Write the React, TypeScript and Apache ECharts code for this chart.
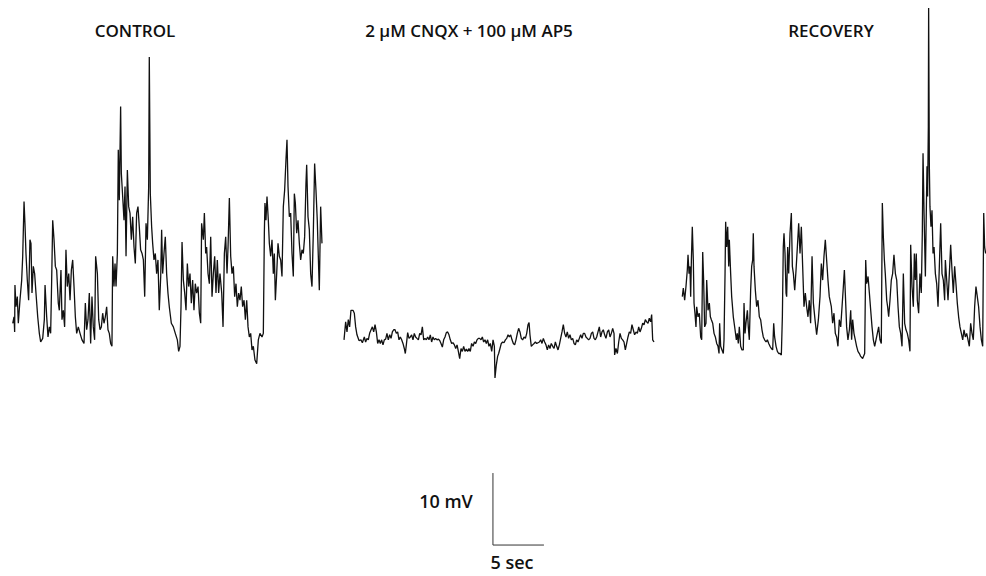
import React, { useEffect, useRef } from "react";
import * as echarts from "echarts";

// ---- Data (time in s, membrane potential in mV relative to trace baseline) ----
const panelTitles = ["CONTROL", "2 \u03bcM CNQX + 100 \u03bcM AP5", "RECOVERY"];

const controlTime = [0.07,0.20,0.26,0.29,0.39,0.52,0.62,0.78,0.95,1.05,1.18,1.27,1.37,1.50,1.63,1.76,1.86,1.96,2.09,2.22,2.35,2.52,2.68,2.81,3.01,3.17,3.24,3.40,3.53,3.66,3.79,3.89,3.99,4.12,4.25,4.38,4.54,4.64,4.80,4.90,5.03,5.16,5.29,5.42,5.56,5.69,5.82,5.95,6.08,6.21,6.34,6.50,6.67,6.86,7.06,7.19,7.32,7.45,7.58,7.71,7.84,7.97,8.10,8.20,8.37,8.50,8.63,8.76,8.89,9.02,9.15,9.28,9.41,9.54,9.67,9.80,9.87,10.00,10.10,10.20,10.33,10.42,10.52,10.65,10.72,10.85,10.98,11.08,11.18,11.31,11.44,11.57,11.70,11.83,11.96,12.09,12.22,12.35,12.48,12.61,12.75,12.88,13.01,13.14,13.27,13.40,13.46,13.56,13.69,13.79,13.92,14.05,14.18,14.31,14.44,14.58,
14.67,14.77,14.90,15.03,15.16,15.29,15.42,15.62,15.82,16.01,16.21,16.34,16.47,16.57,16.67,16.80,16.93,17.06,17.19,17.32,17.45,17.58,17.71,17.84,17.97,18.10,18.24,18.37,18.50,18.59,18.76,18.86,18.99,19.08,19.22,19.35,19.48,19.61,19.74,19.87,20.00,20.13,20.26,20.39,20.56,20.69,20.82,20.95,21.08,21.18,21.31,21.44,21.57,21.70,21.83,21.96,22.09,22.22,22.35,22.48,22.61,22.75,22.88,23.01,23.14,23.27,23.40,23.53,23.66,23.82,23.99,24.15,24.31,24.51,24.64,24.74,24.80,24.90,25.00,25.13,25.23,25.36,25.49,25.62,25.72,25.82,25.95,26.08,26.21,26.34,26.47,26.60,26.73,26.86,26.96,27.06,27.19,27.32,27.45,27.58,27.68,27.78,27.91,28.04,28.17,28.30,28.43,28.56,28.69,28.82,28.89,29.02,29.15,29.28,29.41,29.54,29.67,29.80,29.93,30.07,30.13,30.26,30.39];
const controlMv = [5.1,6.0,3.9,10.4,7.4,8.8,5.1,8.3,11.1,14.4,22.0,19.0,14.8,11.1,8.3,16.7,16.2,9.3,13.0,12.0,9.3,6.0,3.7,2.5,3.0,5.6,10.4,6.0,3.2,4.6,3.7,11.1,19.4,16.7,13.0,12.5,7.9,6.9,12.5,5.6,6.9,4.6,15.3,10.2,12.0,8.3,12.5,13.9,10.2,6.0,3.7,4.6,3.7,2.8,2.3,7.9,4.2,5.6,9.3,2.3,8.8,4.6,2.8,14.4,12.0,5.6,4.2,4.6,6.5,5.1,6.0,7.4,4.2,3.7,2.3,1.9,14.4,10.2,13.4,10.2,14.8,29.2,22.2,35.2,25.9,22.7,19.4,24.1,14.4,26.4,21.3,20.4,16.7,19.9,15.7,13.4,20.4,21.3,18.5,15.3,14.8,13.9,8.8,19.0,16.7,24.1,42.1,23.1,18.5,16.2,13.9,14.8,12.0,13.9,6.9,11.6,
18.1,12.0,14.8,17.1,12.0,9.3,7.4,5.1,4.6,3.7,2.8,1.2,1.9,7.4,16.4,11.1,9.3,6.9,13.4,10.2,12.0,7.9,11.1,6.9,10.6,9.3,10.2,6.5,5.1,19.0,16.7,20.4,14.8,15.7,12.0,10.6,17.1,8.8,12.0,14.4,9.3,13.9,9.3,12.0,9.3,4.6,14.8,17.1,12.0,15.7,22.5,14.4,12.0,13.0,8.8,10.6,7.4,9.3,8.3,10.2,7.4,8.3,5.6,8.3,4.6,3.2,3.7,1.4,1.9,0.0,-0.5,2.8,3.7,3.2,3.7,17.6,21.8,19.4,22.7,19.4,16.2,14.4,16.7,12.0,14.8,8.3,12.0,16.2,14.4,13.9,11.6,21.3,23.6,27.8,30.6,24.1,19.9,20.4,14.8,11.6,23.1,21.8,17.6,19.4,16.2,13.9,15.3,14.8,17.1,24.5,27.1,19.9,18.1,12.0,10.2,17.6,27.3,23.6,19.4,12.5,9.7,21.3,16.2];

const drugTime = [0.10,0.26,0.39,0.52,0.65,0.78,0.98,1.11,1.24,1.37,1.57,1.76,1.90,2.09,2.22,2.35,2.48,2.61,2.75,2.88,3.01,3.14,3.27,3.40,3.53,3.66,3.79,3.92,4.05,4.18,4.31,4.44,4.58,4.71,4.84,4.97,5.10,5.23,5.36,5.49,5.62,5.75,5.88,6.01,6.11,6.21,6.34,6.47,6.60,6.73,6.86,6.99,7.12,7.25,7.39,7.52,7.65,7.78,7.91,8.04,8.17,8.30,8.43,8.56,8.69,8.82,8.95,9.08,9.22,9.35,9.48,9.61,9.74,9.87,10.00,10.13,10.26,10.39,10.52,10.65,10.78,10.92,11.05,11.18,11.31,11.44,11.57,11.70,11.83,11.96,12.09,12.22,12.35,12.48,12.61,12.75,12.88,13.01,13.14,13.27,13.40,13.53,13.66,13.79,13.92,14.05,14.18,14.31,14.44,14.58,14.71,14.84,14.90,15.03,15.16,
15.26,15.39,15.52,15.65,15.78,15.92,16.05,16.18,16.31,16.44,16.57,16.70,16.83,16.96,17.09,17.22,17.35,17.48,17.61,17.75,17.88,18.01,18.14,18.24,18.33,18.46,18.59,18.73,18.86,18.99,19.12,19.25,19.38,19.51,19.64,19.77,19.90,20.03,20.16,20.29,20.42,20.56,20.69,20.82,20.95,21.08,21.21,21.34,21.47,21.60,21.73,21.86,21.99,22.12,22.25,22.39,22.52,22.65,22.78,22.91,23.04,23.17,23.30,23.43,23.56,23.69,23.82,23.95,24.08,24.22,24.35,24.48,24.61,24.74,24.87,25.00,25.13,25.26,25.39,25.52,25.65,25.78,25.92,26.05,26.18,26.31,26.44,26.57,26.63,26.76,26.90,27.03,27.16,27.29,27.42,27.55,27.68,27.81,27.94,28.07,28.20,28.33,28.46,28.59,28.73,28.86,28.99,29.12,29.25,29.38,29.51,29.64,29.77,29.90,30.03,30.16,30.26,30.36,30.49];
const drugMv = [2.8,5.3,3.9,5.6,4.6,6.9,6.9,6.5,4.6,3.5,2.7,2.8,2.4,3.2,2.5,3.0,2.8,3.7,4.2,4.6,3.9,4.9,3.9,2.3,2.8,2.3,2.8,2.1,2.8,2.9,3.7,2.8,3.5,3.0,3.9,4.2,4.2,3.7,3.9,2.8,3.2,2.8,2.3,1.6,0.9,2.1,3.8,3.0,3.2,3.5,2.8,3.7,3.2,3.0,2.8,3.7,3.5,4.6,2.8,3.0,2.8,3.2,2.8,3.5,2.5,3.2,2.8,3.0,2.8,2.9,2.7,2.3,1.8,2.8,3.2,3.8,3.9,3.5,2.8,2.3,2.4,2.1,1.6,2.1,1.2,0.2,1.6,1.2,1.9,1.2,1.5,1.2,1.6,1.2,2.3,1.9,2.5,2.3,2.8,3.0,3.0,2.8,3.2,2.5,2.8,2.3,2.8,1.9,2.3,1.2,2.8,1.9,-2.5,-0.7,0.5,
0.9,1.6,2.3,2.5,2.4,2.8,3.0,3.5,3.2,3.5,2.8,2.3,2.1,2.8,3.7,4.4,3.9,3.0,2.8,3.2,3.0,3.7,4.9,5.2,3.5,1.9,2.1,2.3,2.5,2.3,2.4,2.5,2.8,2.3,3.0,2.5,2.1,1.4,2.1,1.6,2.3,1.9,1.6,2.5,1.9,1.4,2.1,3.0,3.9,4.9,3.7,3.2,3.9,3.0,3.5,2.8,3.0,2.3,2.1,2.8,2.5,3.0,3.5,3.0,3.7,3.7,3.2,3.0,2.8,3.0,3.7,3.9,3.0,2.8,3.2,3.9,4.6,3.2,3.9,4.2,3.5,3.0,3.9,4.2,3.2,3.7,4.4,3.7,0.7,1.6,0.9,2.5,3.7,3.0,2.8,2.5,1.4,2.3,3.2,3.9,3.7,4.9,4.2,3.5,3.9,3.7,4.6,3.9,4.4,5.1,4.9,5.6,5.3,5.1,5.8,5.3,6.3,2.8,2.5];

const recoveryTime = [0.03,0.13,0.26,0.39,0.52,0.59,0.69,0.78,0.85,0.92,1.01,1.11,1.18,1.27,1.37,1.44,1.57,1.70,1.83,1.93,2.03,2.12,2.22,2.35,2.42,2.55,2.68,2.78,2.88,3.01,3.14,3.27,3.40,3.53,3.63,3.69,3.79,3.92,4.05,4.12,4.22,4.28,4.38,4.48,4.58,4.64,4.77,4.87,5.03,5.20,5.33,5.42,5.52,5.62,5.75,5.88,6.01,6.08,6.18,6.27,6.41,6.50,6.60,6.73,6.83,6.93,6.99,7.06,7.19,7.32,7.45,7.58,7.71,7.84,7.97,8.10,8.24,8.37,8.50,8.63,8.76,8.89,8.99,9.08,9.22,9.35,9.48,9.61,9.74,9.84,9.93,10.00,10.10,10.20,10.26,10.36,10.46,10.59,10.72,10.82,10.92,11.05,11.18,11.31,11.44,11.57,11.70,11.83,11.96,12.09,12.22,12.35,12.48,12.61,12.75,12.88,13.04,13.20,13.37,13.53,13.66,13.79,13.92,14.05,14.18,14.31,14.44,
14.64,14.77,14.90,15.03,15.16,15.29,15.42,15.56,15.69,15.82,15.92,16.01,16.14,16.27,16.41,16.54,16.63,16.73,16.86,16.99,17.12,17.25,17.39,17.52,17.71,17.91,18.01,18.10,18.24,18.37,18.50,18.63,18.76,18.89,19.02,19.15,19.28,19.41,19.54,19.64,19.74,19.84,19.93,20.07,20.16,20.26,20.39,20.52,20.65,20.78,20.92,21.05,21.18,21.31,21.44,21.57,21.70,21.83,21.96,22.09,22.22,22.35,22.42,22.55,22.68,22.78,22.88,22.97,23.07,23.20,23.33,23.46,23.56,23.63,23.73,23.86,23.95,24.02,24.08,24.15,24.18,24.25,24.31,24.41,24.51,24.61,24.71,24.84,24.97,25.10,25.23,25.36,25.49,25.62,25.75,25.82,25.95,26.08,26.21,26.34,26.47,26.60,26.73,26.86,26.99,27.12,27.25,27.39,27.52,27.65,27.78,27.91,28.04,28.17,28.30,28.43,28.56,28.69,28.82,28.95,29.08,29.22,29.35,29.48,29.58,29.67,29.77];
const recoveryMv = [8.8,10.0,8.3,10.2,12.5,14.6,12.0,13.0,8.8,13.9,18.5,13.9,7.9,6.5,4.6,7.4,6.0,6.5,3.2,2.8,15.0,11.1,4.6,5.1,11.1,6.9,7.9,6.0,5.6,5.1,3.7,3.2,2.3,1.9,0.9,5.1,1.9,1.4,0.9,2.8,12.0,19.2,15.7,18.5,13.0,16.7,12.0,8.8,6.0,4.2,2.8,3.7,2.3,4.6,1.9,1.4,1.4,7.9,3.7,5.1,6.9,4.6,2.8,9.7,13.0,13.9,17.6,13.0,9.7,7.4,8.3,6.0,5.6,4.2,3.2,2.8,2.5,2.8,2.3,1.9,1.6,1.4,5.1,3.2,1.9,1.2,0.9,0.9,0.7,6.0,15.7,17.6,14.8,9.3,8.8,15.7,12.0,17.6,20.4,13.0,12.0,9.7,12.5,15.7,19.0,14.8,18.5,13.0,7.4,9.3,7.4,6.0,8.3,5.1,14.4,7.9,5.6,3.5,5.6,8.8,13.4,11.1,14.4,16.7,13.9,11.1,8.8,
7.4,5.1,6.5,3.7,3.2,1.9,5.6,4.6,7.4,10.2,12.5,9.3,4.6,2.8,4.2,6.9,2.8,5.6,3.7,2.8,1.9,1.2,0.9,0.5,0.2,0.9,13.9,10.6,11.6,9.3,6.9,4.6,2.8,1.9,2.8,3.7,4.6,2.8,2.3,21.8,17.1,13.9,12.0,8.3,7.4,6.0,8.3,11.1,12.0,14.6,12.0,11.1,7.4,4.6,3.7,1.9,12.0,5.1,4.2,3.7,2.8,1.2,16.0,10.2,7.4,14.8,11.1,14.8,8.3,6.5,12.0,9.3,17.6,28.7,20.4,11.6,20.4,26.9,22.7,32.4,48.9,26.9,21.3,18.5,20.8,14.8,15.7,12.0,10.6,7.4,13.0,19.0,12.0,11.1,8.3,13.9,11.1,8.3,12.0,16.0,12.5,9.3,13.0,10.6,7.9,6.0,4.6,3.7,2.8,4.2,3.2,3.7,2.8,1.9,5.1,3.7,2.8,7.4,10.2,8.8,7.4,4.6,2.8,1.9,20.4,15.7,14.8];

// Scale bar: 10 mV vertical, 5 s horizontal (drawn in the middle panel's coordinates)
const scaleBarTime = [14.7, 14.7, 19.7];
const scaleBarMv = [-15.7, -25.7, -25.7];
const scaleBarLabels = ["10 mV", "5 sec"];

const zip = (xs: number[], ys: number[]) => {
  const n = Math.min(xs.length, ys.length);
  const out: number[][] = [];
  for (let i = 0; i < n; i++) out.push([xs[i], ys[i]]);
  return out;
};

export default function App() {
  const ref = useRef<HTMLDivElement>(null);
  useEffect(() => {
    document.body.style.margin = "0";
    if (!ref.current) return;
    const chart = echarts.init(ref.current, undefined, { renderer: "svg" });
    const PX_PER_SEC = 10.2;
    const spans = [30.4, 30.5, 29.8];
    const lefts = [12, 343, 682];
    const grids = spans.map((s, i) => ({ left: lefts[i], top: 0, width: s * PX_PER_SEC, height: 576, containLabel: false }));
    const xAxes = spans.map((s, i) => ({ type: "value", gridIndex: i, min: 0, max: s, show: false }));
    const yAxes = spans.map((_, i) => ({ type: "value", gridIndex: i, min: -30, max: 50, show: false }));
    const traceStyle = { color: "#111", width: 1.3 };
    const font = { fontFamily: "Open Sans", fontWeight: 600, fill: "#111" };
    chart.setOption({
      animation: false,
      backgroundColor: "#fff",
      grid: grids,
      xAxis: xAxes,
      yAxis: yAxes,
      series: [
        { type: "line", xAxisIndex: 0, yAxisIndex: 0, data: zip(controlTime, controlMv), symbol: "none", lineStyle: traceStyle, silent: true },
        { type: "line", xAxisIndex: 1, yAxisIndex: 1, data: zip(drugTime, drugMv), symbol: "none", lineStyle: traceStyle, silent: true },
        { type: "line", xAxisIndex: 2, yAxisIndex: 2, data: zip(recoveryTime, recoveryMv), symbol: "none", lineStyle: traceStyle, silent: true },
        { type: "line", xAxisIndex: 1, yAxisIndex: 1, data: zip(scaleBarTime, scaleBarMv), symbol: "none", lineStyle: { color: "#333", width: 1 }, silent: true },
      ],
      graphic: [
        { type: "text", x: 135, y: 30, style: { text: panelTitles[0], fontSize: 17, align: "center", verticalAlign: "middle", ...font } },
        { type: "text", x: 469, y: 30, style: { text: panelTitles[1], fontSize: 17, align: "center", verticalAlign: "middle", ...font } },
        { type: "text", x: 831, y: 30, style: { text: panelTitles[2], fontSize: 17, align: "center", verticalAlign: "middle", ...font } },
        { type: "text", x: 446, y: 501, style: { text: scaleBarLabels[0], fontSize: 18, align: "center", verticalAlign: "middle", ...font } },
        { type: "text", x: 512, y: 562, style: { text: scaleBarLabels[1], fontSize: 18, align: "center", verticalAlign: "middle", ...font } },
      ],
    });
    return () => chart.dispose();
  }, []);
  return <div ref={ref} style={{ width: 986, height: 576 }} />;
}
